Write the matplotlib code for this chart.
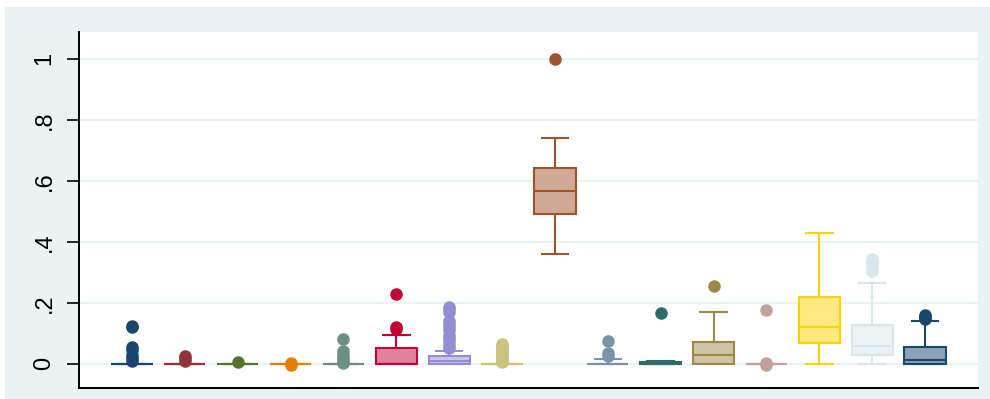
import matplotlib
matplotlib.use("Agg")
import matplotlib.pyplot as plt
from matplotlib.colors import to_rgb
from matplotlib.patches import Rectangle

# s2color pstyle colours, one per variable (16th wraps back to navy)
colors = ["#1a476f", "#90353b", "#55752f", "#e37e00", "#6e8e84", "#c10534",
          "#938dd2", "#cac27e", "#a0522d", "#7b92a8", "#2d6d66", "#9c8847",
          "#bfa19c", "#ffd200", "#d9e6eb", "#1a476f"]

# box statistics per variable
whislo = [0, 0, 0, 0, 0, 0, 0, 0, 0.360, 0, 0, 0, 0, 0, 0, 0]
q1 = [0, 0, 0, 0, 0, 0, 0, 0, 0.491, 0, 0, 0, 0, 0.069, 0.030, 0]
med = [0, 0, 0, 0, 0, 0, 0.008, 0, 0.567, 0, 0, 0.029, 0, 0.120, 0.059, 0.013]
q3 = [0, 0, 0, 0, 0, 0.051, 0.024, 0, 0.642, 0, 0.004, 0.070, 0, 0.220, 0.128, 0.056]
whishi = [0, 0, 0, 0, 0, 0.093, 0.040, 0, 0.740, 0.016, 0.008, 0.168, 0, 0.428, 0.266, 0.140]
fliers = [
    [0.01, 0.02, 0.03, 0.045, 0.055, 0.12, 0.125],
    [0.01, 0.02, 0.025],
    [0.005],
    [0.002, -0.003],
    [0.003, 0.01, 0.02, 0.03, 0.04, 0.082],
    [0.115, 0.12, 0.228],
    [0.05, 0.06, 0.075, 0.085, 0.095, 0.11, 0.12, 0.13, 0.14, 0.17, 0.18, 0.185],
    [0.005, 0.01, 0.015, 0.02, 0.025, 0.03, 0.035, 0.04, 0.045, 0.05, 0.055, 0.06, 0.065],
    [0.999],
    [0.025, 0.035, 0.075],
    [0.165],
    [0.256],
    [0.003, -0.003, 0.176],
    [],
    [0.305, 0.315, 0.325, 0.335, 0.343],
    [0.145, 0.15, 0.155, 0.16],
]

yticks = [0, 0.2, 0.4, 0.6, 0.8, 1.0]
yticklabels = ["0", ".2", ".4", ".6", ".8", "1"]

bg = "#eaf2f3"

fig = plt.figure(figsize=(9.9, 3.99), dpi=100)
fig.patch.set_facecolor("white")
fig.patches.append(Rectangle((5 / 990, 0), 1, (399 - 7) / 399, transform=fig.transFigure,
                             facecolor=bg, edgecolor="none", zorder=-10))

ax = fig.add_axes([79 / 990, 11 / 399, (978 - 79) / 990, (388 - 32) / 399])
ax.set_facecolor("white")

stats = []
for i in range(len(colors)):
    stats.append(dict(whislo=whislo[i], q1=q1[i], med=med[i], q3=q3[i],
                      whishi=whishi[i], fliers=fliers[i]))

lw = 1.5
for i, st in enumerate(stats):
    c = colors[i]
    light = tuple(0.5 * v + 0.5 for v in to_rgb(c))
    ax.bxp([st], positions=[i + 1], widths=0.78, capwidths=0.5, patch_artist=True,
           boxprops=dict(facecolor=light, edgecolor=c, linewidth=lw),
           medianprops=dict(color=c, linewidth=lw),
           whiskerprops=dict(color=c, linewidth=lw),
           capprops=dict(color=c, linewidth=lw),
           flierprops=dict(marker="o", markerfacecolor=c, markeredgecolor=c,
                           markersize=8, linestyle="none"))

ax.set_xlim(0, 17)
ax.set_ylim(-0.0797, 1.0875)
ax.set_xticks([])
ax.set_yticks(yticks)
ax.set_yticklabels(yticklabels, rotation=90, va="center", fontsize=17,
                   family="Liberation Sans")
ax.tick_params(axis="y", length=9, width=1.2, pad=8, colors="black")
ax.yaxis.grid(True, color=bg, linewidth=1.5)
ax.set_axisbelow(True)

for s in ["top", "right"]:
    ax.spines[s].set_visible(False)
for s in ["left", "bottom"]:
    ax.spines[s].set_linewidth(1.4)
    ax.spines[s].set_color("black")

fig.savefig("out.png", dpi=100, facecolor=fig.get_facecolor())
